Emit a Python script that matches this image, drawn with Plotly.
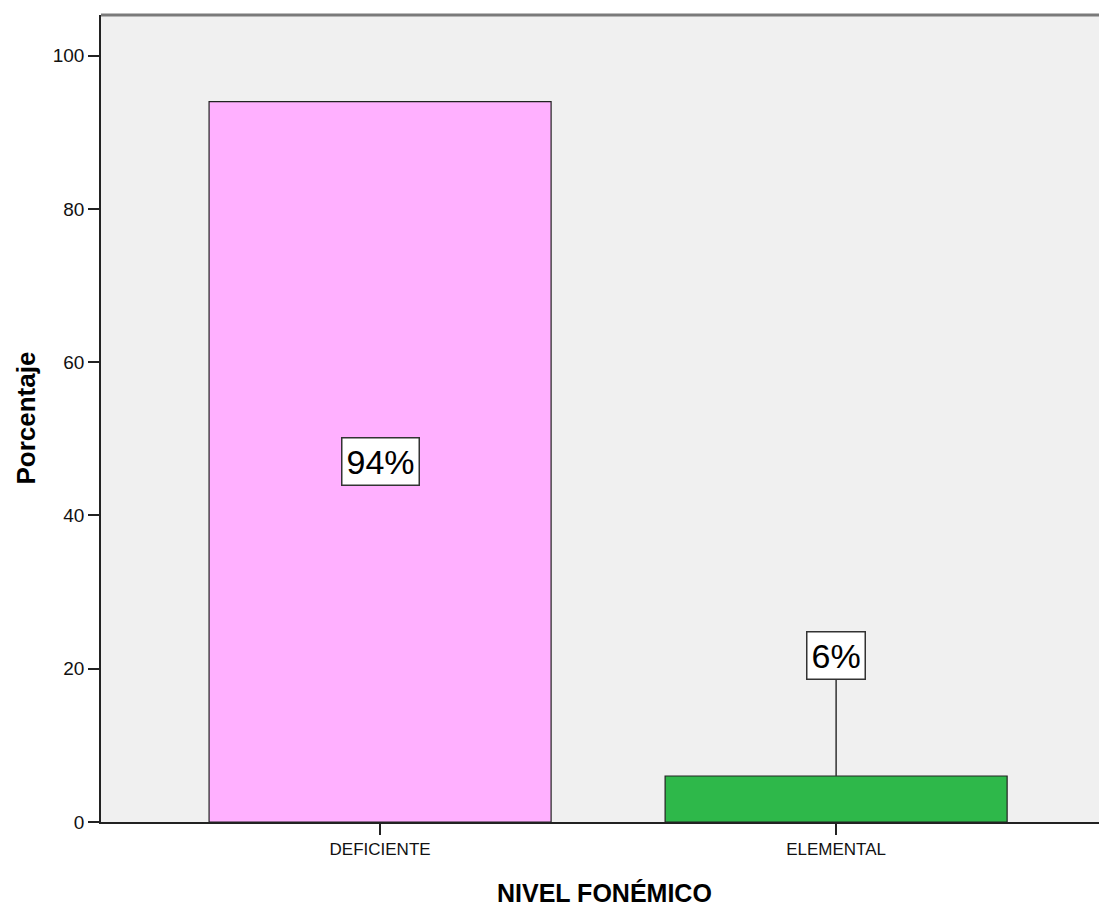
import plotly.graph_objects as go

categories = ["DEFICIENTE", "ELEMENTAL"]
percentages = [94, 6]
label_texts = ["94%", "6%"]
bar_colors = ["#FFB0FF", "#2EB84A"]
y_ticks = [0, 20, 40, 60, 80, 100]

FONT = "Arial, Liberation Sans, sans-serif"

fig = go.Figure()
fig.add_trace(go.Bar(
    x=list(range(len(categories))),
    y=percentages,
    width=0.75,
    marker=dict(color=bar_colors, line=dict(color="#222222", width=1.2)),
    hoverinfo="skip",
    showlegend=False,
))

fig.add_annotation(
    x=0, y=percentages[0] / 2, xref="x", yref="y",
    text=label_texts[0], showarrow=False,
    font=dict(family=FONT, size=34, color="#000000"),
    bgcolor="#FFFFFF", bordercolor="#333333", borderwidth=1.5, borderpad=4,
)
fig.add_annotation(
    x=1, y=percentages[1], xref="x", yref="y",
    ax=1, ay=21.7, axref="x", ayref="y",
    text=label_texts[1], showarrow=True, arrowhead=0, arrowwidth=1.5,
    arrowcolor="#333333", standoff=0,
    font=dict(family=FONT, size=34, color="#000000"),
    bgcolor="#FFFFFF", bordercolor="#333333", borderwidth=1.5, borderpad=4,
)

# Axis titles
fig.add_annotation(
    x=0.5, y=-0.088, xref="paper", yref="paper",
    text="<b>NIVEL FONÉMICO</b>", showarrow=False,
    font=dict(family=FONT, size=25, color="#000000"),
    xanchor="center", yanchor="middle",
)
fig.add_annotation(
    x=-0.0755, y=0.5, xref="paper", yref="paper",
    text="<b>Porcentaje</b>", showarrow=False, textangle=-90,
    font=dict(family=FONT, size=26, color="#000000"),
    xanchor="center", yanchor="middle",
)

fig.add_shape(type="line", xref="paper", yref="paper", x0=0, x1=1, y0=1, y1=1,
              line=dict(color="#7A7A7A", width=3))

fig.update_layout(
    width=1099, height=902,
    margin=dict(l=93, r=0, t=7, b=88),
    paper_bgcolor="#FFFFFF",
    plot_bgcolor="#F0F0F0",
    xaxis=dict(
        range=[-0.612, 1.594],
        tickmode="array",
        tickvals=list(range(len(categories))),
        ticktext=categories,
        ticks="outside", ticklen=11, tickwidth=1.5, tickcolor="#222222",
        showline=True, linecolor="#222222", linewidth=1.5,
        showgrid=False, zeroline=False,
        tickfont=dict(family=FONT, size=17, color="#111111"),
        fixedrange=True,
    ),
    yaxis=dict(
        range=[0, 105.3],
        tickmode="array",
        tickvals=y_ticks,
        ticks="outside", ticklen=11, tickwidth=1.5, tickcolor="#222222",
        showline=True, linecolor="#222222", linewidth=1.5,
        showgrid=False, zeroline=False,
        tickfont=dict(family=FONT, size=19, color="#111111"),
        fixedrange=True,
    ),
)

fig.write_html("out.html")
